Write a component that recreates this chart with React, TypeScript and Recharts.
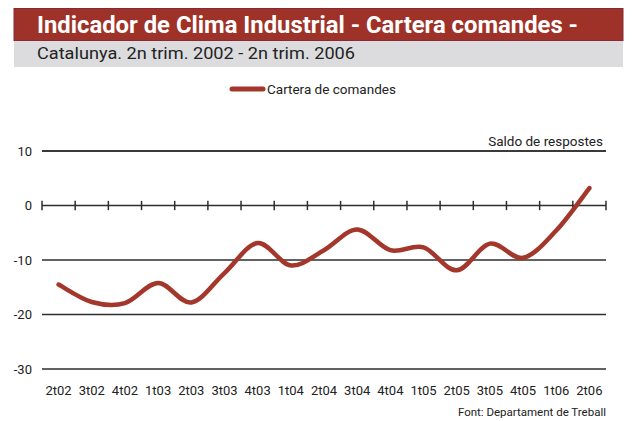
import { LineChart, Line, XAxis, YAxis, CartesianGrid, ReferenceLine } from "recharts";

const quarters = [
  "2t02", "3t02", "4t02", "1t03", "2t03", "3t03", "4t03", "1t04", "2t04",
  "3t04", "4t04", "1t05", "2t05", "3t05", "4t05", "1t06", "2t06",
];
const carteraComandes = [
  -14.5, -17.7, -17.9, -14.2, -17.8, -12.4, -6.9, -11.0, -8.2,
  -4.4, -8.2, -7.7, -11.9, -7.0, -9.6, -4.6, 3.2,
];
const yTicks = [-30, -20, -10, 0, 10];

const RED = "#a3372b";
const INK = "#2e2e2e";
const FONT = "Roboto, sans-serif";

const rows = quarters.map((q, i) => ({ idx: i, label: q, value: carteraComandes[i] }));
const boundaries = [...quarters.map((_, i) => i - 0.5), quarters.length - 0.5];

// smooth line through the points (catmull-rom), like the spreadsheet's smoothed line
const smooth = (context: any) => {
  let pts: number[][] = [];
  return {
    areaStart() {},
    areaEnd() {},
    lineStart() {
      pts = [];
    },
    lineEnd() {
      if (!pts.length) return;
      context.moveTo(pts[0][0], pts[0][1]);
      for (let i = 0; i < pts.length - 1; i++) {
        const p0 = pts[i - 1] || pts[i];
        const p1 = pts[i];
        const p2 = pts[i + 1];
        const p3 = pts[i + 2] || p2;
        context.bezierCurveTo(
          p1[0] + (p2[0] - p0[0]) / 6,
          p1[1] + (p2[1] - p0[1]) / 6,
          p2[0] - (p3[0] - p1[0]) / 6,
          p2[1] - (p3[1] - p1[1]) / 6,
          p2[0],
          p2[1]
        );
      }
    },
    point(x: number, y: number) {
      pts.push([x, y]);
    },
  };
};

export default function App() {
  return (
    <div style={{ position: "absolute", left: 0, top: 0, width: 637, height: 421, background: "#fff" }}>
      <svg width={637} height={421} style={{ position: "absolute", left: 0, top: 0 }}>
        <rect x={14} y={8.5} width={609} height={32} fill="#9e3228" stroke="#86283a" strokeWidth={1} />
        <rect x={14} y={41} width={609} height={26} fill="#dcdcde" />
        <text x={37} y={33} fill="#fff" fontFamily={FONT} fontWeight={700} fontSize={23} textLength={541} lengthAdjust="spacingAndGlyphs">
          Indicador de Clima Industrial - Cartera comandes -
        </text>
        <text x={37} y={59} fill="#222" fontFamily={FONT} fontSize={16} textLength={318} lengthAdjust="spacingAndGlyphs">
          Catalunya. 2n trim. 2002 - 2n trim. 2006
        </text>
        {/* legend */}
        <line x1={232} y1={89} x2={263} y2={89} stroke={RED} strokeWidth={5} strokeLinecap="round" />
        <text x={267} y={94} fill="#222" fontFamily={FONT} fontSize={13.5}>
          Cartera de comandes
        </text>
        <text x={606} y={416} fill="#222" fontFamily={FONT} fontSize={11.5} textAnchor="end">
          Font: Departament de Treball
        </text>
      </svg>
      <LineChart
        width={637}
        height={421}
        data={rows}
        margin={{ top: 151, right: 31, bottom: 22, left: 0 }}
        style={{ position: "absolute", left: 0, top: 0 }}
      >
        <CartesianGrid vertical={false} stroke={INK} strokeWidth={1.5} />
        <XAxis
          dataKey="idx"
          type="number"
          domain={[-0.5, quarters.length - 0.5]}
          ticks={rows.map((r) => r.idx)}
          tickFormatter={(i) => quarters[i]}
          interval={0}
          axisLine={false}
          tickLine={false}
          tickMargin={11}
          tick={{ fill: "#222", fontSize: 13, fontFamily: FONT }}
        />
        <YAxis
          domain={[-30, 10]}
          ticks={yTicks}
          width={42}
          axisLine={false}
          tickLine={false}
          tickMargin={4}
          tick={{ fill: "#222", fontSize: 13, fontFamily: FONT }}
        />
        {boundaries.map((b) => (
          <ReferenceLine
            key={b}
            segment={[
              { x: b, y: -0.85 },
              { x: b, y: 0.85 },
            ]}
            stroke={INK}
            strokeWidth={1.5}
          />
        ))}
        <ReferenceLine
          y={10}
          stroke={INK}
          strokeWidth={1.5}
          label={{
            value: "Saldo de respostes",
            position: "insideBottomRight",
            offset: 5,
            dx: 2,
            fill: "#222",
            fontSize: 13.5,
            fontFamily: FONT,
          }}
        />
        <Line
          dataKey="value"
          type={smooth as any}
          stroke={RED}
          strokeWidth={4.5}
          strokeLinecap="round"
          dot={false}
          activeDot={false}
          isAnimationActive={false}
        />
      </LineChart>
    </div>
  );
}
